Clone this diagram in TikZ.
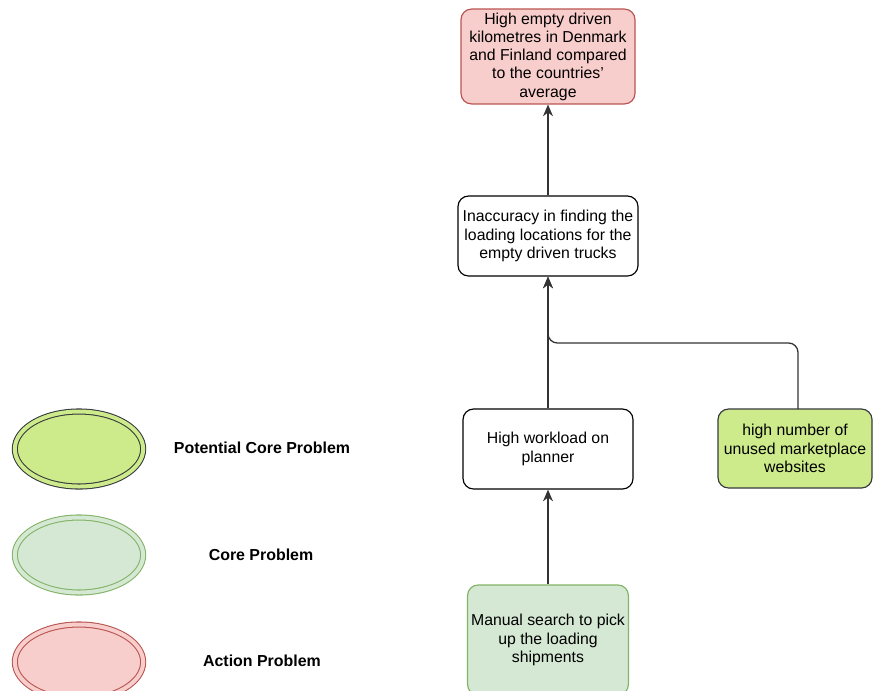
\documentclass[tikz,border=0pt]{standalone}
\usepackage{fontspec}
\setmainfont{Liberation Sans}
\definecolor{actred}{RGB}{248, 206, 204}
\definecolor{actline}{RGB}{184, 84, 80}
\definecolor{coregreen}{RGB}{213, 232, 212}
\definecolor{coreline}{RGB}{130, 179, 102}
\definecolor{potlime}{RGB}{205, 235, 139}
\definecolor{potline}{RGB}{54, 57, 61}
\usetikzlibrary{shapes, arrows.meta, positioning, calc}

\begin{document}
\begin{tikzpicture}[
  x=0.03cm, y=-0.03cm,
  pbox/.style={draw, rounded corners=9pt, align=center, inner sep=3pt,
    font=\fontsize{13.5}{15.6}\selectfont, line width=1pt},
  lell/.style={ellipse, minimum width=3.85cm, minimum height=2.25cm, line width=0.9pt,
    double distance=3.4pt},
  lbl/.style={font=\bfseries\fontsize{13.6}{16}\selectfont},
  link/.style={-{Stealth[length=10pt, width=8.5pt]}, line width=1.1pt, draw=black!80}
]
  \clip (0,0) rectangle (873,690);
  \useasboundingbox (0,0) rectangle (873,690);

  % legend
  \node[lell, draw=potline, fill=potlime, double=potlime] (potell) at (79,449) {};
  \node[lbl] (potlbl) at (262,448) {Potential Core Problem};
  \node[lell, draw=coreline, fill=coregreen, double=coregreen] (coreell) at (79,555) {};
  \node[lbl] (corelbl) at (261,555) {Core Problem};
  \node[lell, draw=actline, fill=actred, double=actred] (actell) at (79,662) {};
  \node[lbl] (actlbl) at (262,661) {Action Problem};

  % problem cluster
  \node[pbox, draw=actline, fill=actred, minimum width=5.22cm, minimum height=2.79cm] (emptykm) at (548,56.5)
    {High empty driven\\kilometres in Denmark\\and Finland compared\\to the countries'\\average};
  \node[pbox, fill=white, minimum width=5.4cm, minimum height=2.4cm] (inacc) at (548,236)
    {Inaccuracy in finding the\\loading locations for the\\empty driven trucks};
  \node[pbox, fill=white, minimum width=5.1cm, minimum height=2.4cm] (workload) at (548,449)
    {High workload on\\planner};
  \node[pbox, draw=potline, fill=potlime, minimum width=4.62cm, minimum height=2.37cm] (webs) at (795,448.5)
    {high number of\\unused marketplace\\websites};
  \node[pbox, draw=coreline, fill=coregreen, minimum width=4.8cm, minimum height=3.3cm] (manual) at (548,640)
    {Manual search to pick\\up the loading\\shipments};

  % arrows
  \coordinate (websup) at (798,409);
  \draw[link] (inacc.north) -- (emptykm.south);
  \draw[link] (workload.north) -- (inacc.south);
  \draw[link, rounded corners=8pt] (websup) |- (548,343) -- (inacc.south);
  \draw[link] (manual.north) -- (workload.south);
\end{tikzpicture}
\end{document}
